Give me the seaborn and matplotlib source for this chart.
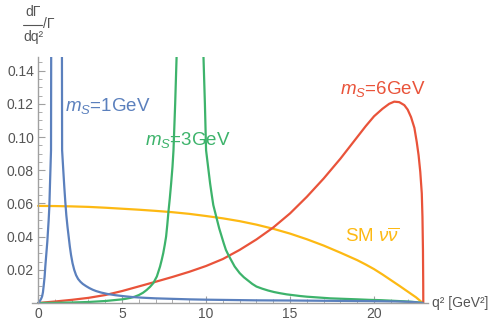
import numpy as np
import pandas as pd
import matplotlib
matplotlib.use("Agg")
import matplotlib.pyplot as plt
import seaborn as sns

# ---- data ----
q2_ms1 = [0, 0.06, 0.12, 0.18, 0.24, 0.29, 0.34, 0.39, 0.43, 0.47, 0.51, 0.55, 0.58, 0.63, 0.67, 0.71,
          0.74, 0.77, 0.78, 1.0,
          1.42, 1.43, 1.50, 1.56, 1.62, 1.68, 1.75, 1.82, 1.89, 1.96, 2.05, 2.15, 2.26, 2.38, 2.52, 2.66,
          2.85, 3.05, 3.25, 3.45, 3.75, 4.1, 4.6, 5.1, 5.6, 6.2, 7.0, 8.0, 9.0, 10.0, 11.5, 13.0, 15.0,
          17.5, 20.0, 21.5, 22.3, 22.9]
v_ms1 = [0, 0.0004, 0.0015, 0.0025, 0.004, 0.0065, 0.011, 0.016, 0.022, 0.027, 0.032, 0.037, 0.042, 0.050, 0.058, 0.072,
         0.082, 0.092, 0.15, 1.5,
         0.15, 0.092, 0.080, 0.070, 0.061, 0.053, 0.046, 0.040, 0.034, 0.029, 0.024, 0.020, 0.0168, 0.0145, 0.0128, 0.0115,
         0.0102, 0.0090, 0.0080, 0.0072, 0.0063, 0.0055, 0.0047, 0.0041, 0.0036, 0.0032, 0.0028, 0.0025, 0.0022, 0.0020, 0.0018, 0.0016, 0.0015,
         0.0013, 0.0011, 0.0009, 0.0006, 0]

q2_ms3 = [0, 1.0, 2.0, 3.0, 4.0, 5.0, 5.25, 5.5, 5.75, 6.0, 6.25, 6.47, 6.67, 6.86, 7.07, 7.26, 7.36, 7.45,
          7.54, 7.62, 7.69, 7.76, 7.84, 7.92, 8.0, 8.06, 8.16, 8.25, 9.0,
          9.84, 9.93, 10.0, 10.12, 10.24, 10.34, 10.43, 10.53, 10.63, 10.78, 10.93, 11.05, 11.18, 11.3, 11.43,
          11.7, 12.0, 12.25, 12.5, 12.75, 13.0, 13.35, 13.7, 14.05, 14.4, 14.8, 15.2, 15.6, 16.0, 16.7, 17.4,
          18.2, 19.0, 19.7, 20.4, 21.2, 22.0, 22.5, 22.9]
v_ms3 = [0, 0.0001, 0.0003, 0.0006, 0.0012, 0.0022, 0.0026, 0.0031, 0.0038, 0.0048, 0.0062, 0.0079, 0.0098, 0.012, 0.016, 0.022, 0.026, 0.030,
         0.035, 0.040, 0.047, 0.055, 0.063, 0.072, 0.082, 0.092, 0.12, 0.15, 1.5,
         0.15, 0.12, 0.092, 0.082, 0.072, 0.065, 0.059, 0.055, 0.051, 0.045, 0.040, 0.036, 0.032, 0.0295, 0.027,
         0.022, 0.018, 0.0155, 0.0135, 0.0115, 0.0099, 0.0086, 0.0075, 0.0066, 0.0059, 0.0052, 0.0047, 0.0042, 0.0038, 0.0033, 0.0028,
         0.0025, 0.0022, 0.0019, 0.0017, 0.0013, 0.0009, 0.0005, 0]

q2_ms6 = [0, 1.0, 2.0, 3.0, 4.0, 5.0, 6.0, 7.0, 8.0, 9.0, 10.0, 11.0, 12.0, 13.0, 14.0, 15.0, 16.0, 17.0, 18.0,
          19.0, 19.5, 20.0, 20.5, 20.9, 21.2, 21.5, 21.8, 22.0, 22.2, 22.4, 22.54, 22.65, 22.75, 22.84, 22.88,
          22.91, 22.925, 22.93]
v_ms6 = [0, 0.0009, 0.0019, 0.0031, 0.0048, 0.0072, 0.0100, 0.0128, 0.0157, 0.0188, 0.0223, 0.0265, 0.0320, 0.0383,
         0.0455, 0.0540, 0.0640, 0.0750, 0.0870,
         0.1000, 0.1065, 0.1125, 0.1170, 0.1200, 0.1213, 0.1210, 0.1192, 0.1165, 0.1120, 0.1055, 0.0970, 0.0890, 0.0790,
         0.0660, 0.0520, 0.0320, 0.0120, 0]

q2_sm = [0, 1.0, 2.0, 3.0, 4.0, 5.0, 6.0, 7.0, 8.0, 9.0, 10.0, 11.0, 12.0, 13.0, 14.0, 15.0, 16.0, 17.0, 18.0,
         19.0, 19.5, 20.0, 20.5, 21.0, 21.5, 22.0, 22.5, 22.9]
v_sm = [0.0585, 0.0584, 0.0582, 0.0579, 0.0574, 0.0568, 0.0562, 0.0555, 0.0547, 0.0537, 0.0524, 0.0510, 0.0493,
        0.0472, 0.0447, 0.0418, 0.0384, 0.0346, 0.0303,
        0.0258, 0.0232, 0.0204, 0.0172, 0.0138, 0.0104, 0.0069, 0.0034, 0]

series_names = ["ms1", "ms3", "ms6", "sm"]
colors = {"ms1": "#5B80BD", "ms3": "#3DB36B", "ms6": "#E9533A", "sm": "#FDB913"}

x_ticks = [0, 5, 10, 15, 20]
y_ticks = [0.02, 0.04, 0.06, 0.08, 0.10, 0.12, 0.14]

df = pd.concat([
    pd.DataFrame({"q2": q2_ms1, "v": v_ms1, "s": "ms1"}),
    pd.DataFrame({"q2": q2_ms3, "v": v_ms3, "s": "ms3"}),
    pd.DataFrame({"q2": q2_ms6, "v": v_ms6, "s": "ms6"}),
    pd.DataFrame({"q2": q2_sm, "v": v_sm, "s": "sm"}),
], ignore_index=True)

sns.set_theme(style="white")
plt.rcParams["font.family"] = ["Liberation Sans", "DejaVu Sans"]
plt.rcParams["mathtext.fontset"] = "custom"
plt.rcParams["mathtext.rm"] = "Liberation Sans"
plt.rcParams["mathtext.it"] = "Liberation Sans:italic"
plt.rcParams["mathtext.bf"] = "Liberation Sans:bold"

W, H = 499, 321
fig = plt.figure(figsize=(W / 100, H / 100), dpi=100)
ax = fig.add_axes([31.7 / W, (H - 303) / H, (428 - 31.7) / W, (303 - 57) / H])

for name in ["sm", "ms6", "ms3", "ms1"]:
    sub = df[df["s"] == name]
    sns.lineplot(data=sub, x="q2", y="v", ax=ax, color=colors[name], lw=1.6,
                 estimator=None, sort=False, legend=False)

ax.set_xlim(-0.38, 23.21)
ax.set_ylim(0, 0.1482)

axis_gray = "#A0A0A0"
text_gray = "#555555"
for side in ["top", "right"]:
    ax.spines[side].set_visible(False)
ax.spines["left"].set_position(("data", 0))
ax.spines["left"].set_color(axis_gray)
ax.spines["bottom"].set_color(axis_gray)
ax.spines["left"].set_linewidth(1.0)
ax.spines["bottom"].set_linewidth(1.0)

ax.set_xticks(x_ticks)
ax.set_xticklabels([str(t) for t in x_ticks])
ax.set_yticks(y_ticks)
ax.set_yticklabels([f"{t:.2f}" for t in y_ticks])
ax.set_xticks(np.arange(1, 23, 1), minor=True)
ax.set_yticks(np.arange(0.005, 0.148, 0.005), minor=True)
ax.tick_params(axis="both", which="major", direction="in", length=5, width=0.8,
               color=axis_gray, labelcolor=text_gray, labelsize=10, pad=3)
ax.tick_params(axis="both", which="minor", direction="in", length=3, width=0.6, color=axis_gray)
ax.tick_params(axis="y", which="both", left=True)
ax.tick_params(axis="x", which="both", bottom=True)
ax.set_xlabel("")
ax.set_ylabel("")


def ftext(x, y, s, **kw):
    fig.text(x / W, 1 - y / H, s, **kw)


# axis labels
ftext(432, 303, "q² [GeV²]", color=text_gray, fontsize=10, ha="left", va="center")
ftext(33, 12, "dΓ", color=text_gray, fontsize=10, ha="center", va="center")
ftext(33, 37, "dq²", color=text_gray, fontsize=10, ha="center", va="center")
ftext(43, 24, "/Γ", color=text_gray, fontsize=10, ha="left", va="center")
fig.add_artist(plt.Line2D([23 / W, 42 / W], [1 - 25 / H, 1 - 25 / H], color=text_gray, lw=0.8))

# curve labels
ftext(108, 106, r"$m_S$=1GeV", color=colors["ms1"], fontsize=13.5, ha="center", va="center")
ftext(188, 140, r"$m_S$=3GeV", color=colors["ms3"], fontsize=13.5, ha="center", va="center")
ftext(383, 89, r"$m_S$=6GeV", color=colors["ms6"], fontsize=13.5, ha="center", va="center")
ftext(372, 237, r"SM $\nu\overline{\nu}$", color=colors["sm"], fontsize=13.5, ha="center", va="center")

fig.savefig("out.png", dpi=100)
